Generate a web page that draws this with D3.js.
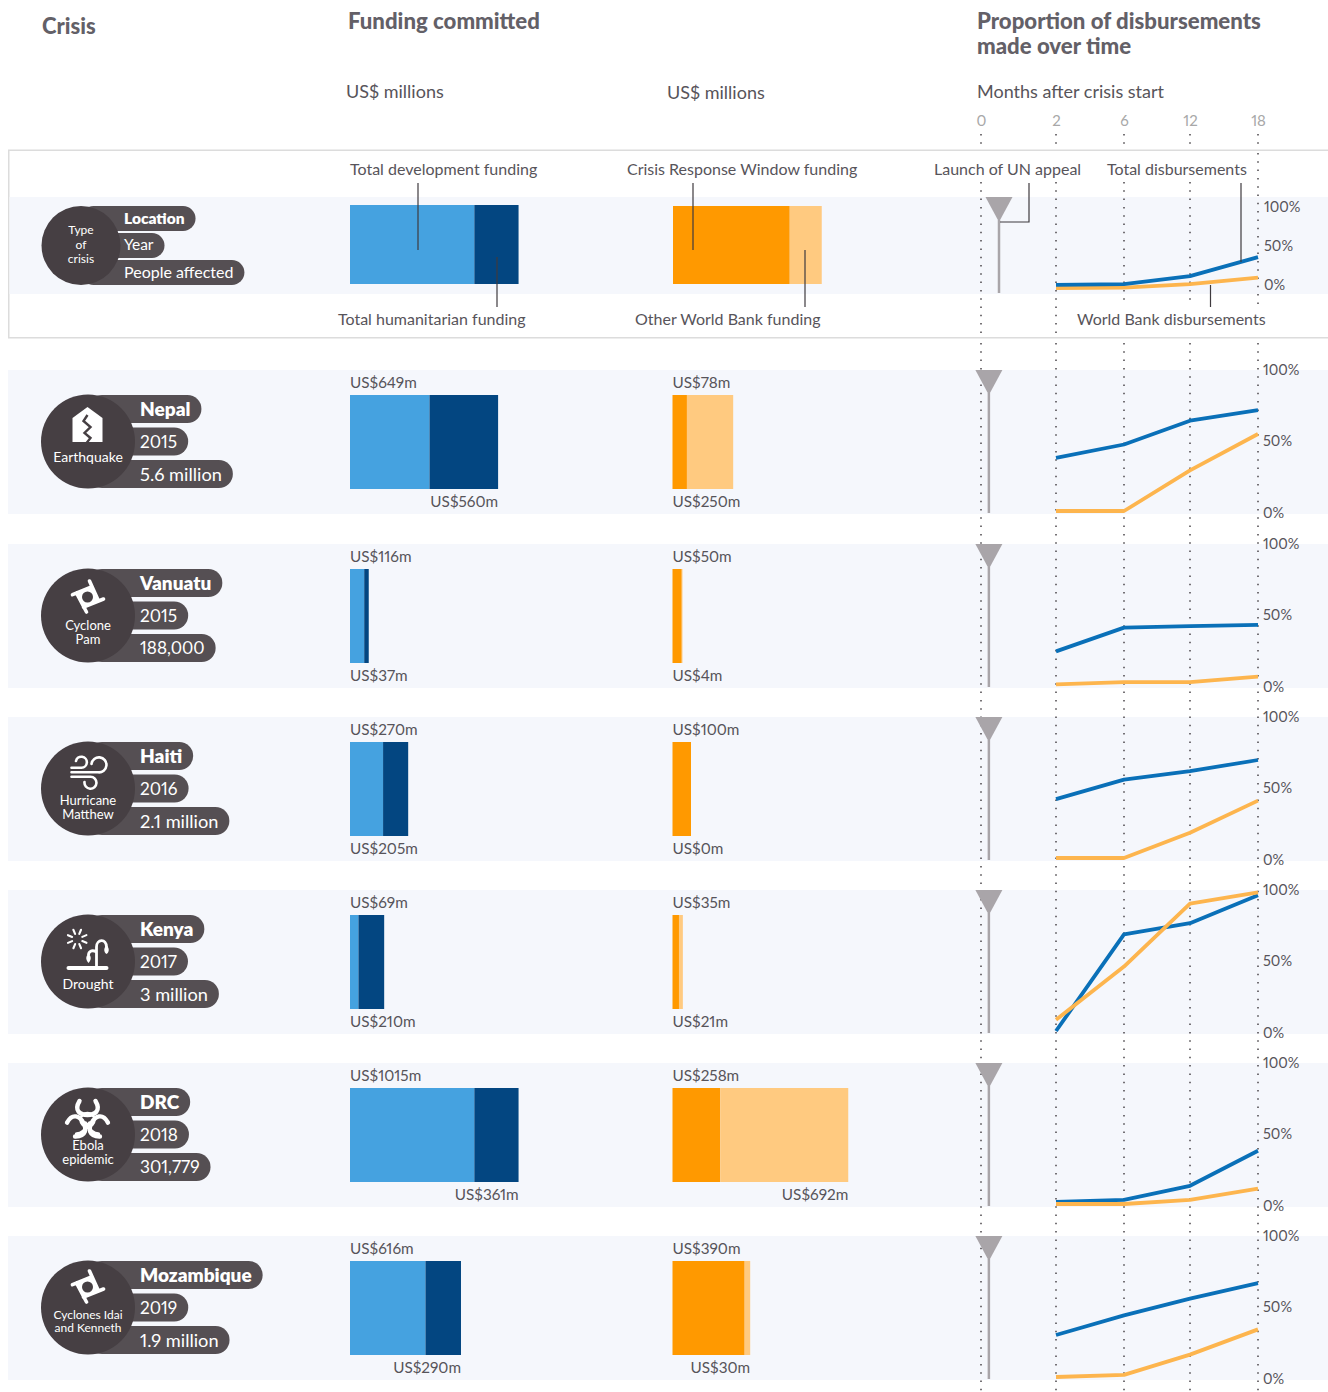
<!DOCTYPE html>
<html><head><meta charset="utf-8">
<script src="https://cdn.jsdelivr.net/npm/d3@7"></script>
<style>
html,body{margin:0;padding:0;background:#fff;overflow:hidden}
text{font-family:Lato,sans-serif;fill:#57545a;font-variant-numeric:proportional-nums;font-feature-settings:"pnum" 1}
</style></head><body><svg id="c" width="1328" height="1392"></svg>
<script>
const crises=["Nepal","Vanuatu","Haiti","Kenya","DRC","Mozambique"];
const years=["2015","2015","2016","2017","2018","2019"];
const people=["5.6 million","188,000","2.1 million","3 million","301,779","1.9 million"];
const crisisTypes=[["Earthquake"],["Cyclone","Pam"],["Hurricane","Matthew"],["Drought"],["Ebola","epidemic"],["Cyclones Idai","and Kenneth"]];
const icons=["quake","cyclone","wind","drought","bio","cyclone"];
const devFunding=[649,116,270,69,1015,616];
const humFunding=[560,37,205,210,361,290];
const crwFunding=[78,50,100,35,258,390];
const otherFunding=[250,4,0,21,692,30];
const months=[2,6,12,18];
const monthTicks=[0,2,6,12,18];
const totalDisb=[[38,47.5,64.5,72],[24,41,42,43],[42,56,62,70],[0,69,77,97],[1.5,3,13,38],[30,44,56,67]];
const wbDisb=[[0,0,29,55],[0.5,2,2,6],[0,0,18,41],[8,46,91,99],[0,0,3,11],[0,1.5,16,34]];
const appealMonth=[0.21,0.21,0.21,0.21,0.21,0.21];
const legendTotal=[4,5,15,39];
const legendWb=[0,0.5,5,13];
const legendBars={dev:1015,hum:361,crw:631,other:173,appeal:0.48};
const pctTicks=[0,50,100];

const C={bg:"#f5f7fc",lb:"#45a2e0",db:"#034681",or:"#ff9900",lo:"#ffca80",tot:"#0a70b8",wb:"#fdb54e",tri:"#a9a5a9",pill:"#554f53",circ:"#463f43",txt:"#57545a",note:"#3f3b3f"};
const svg=d3.select("#c");
const rowPoint=d3.scalePoint().domain(crises).range([370,1236]);
const rowTop=d=>Math.ceil(rowPoint(d));
const rowH=144, barTop=25, barH=94;
const xBlue=d3.scaleLinear().domain([0,1000]).range([0,122.5]);
const xOr=d3.scaleLinear().domain([0,1000]).range([0,185]);
const xM=d3.scaleLinear().domain(monthTicks).range([981,1056,1124,1190,1258]);
const T=(g,s,x,y,size,opt={})=>g.append("text").attr("x",x).attr("y",y+1.5).attr("font-size",size).attr("dominant-baseline","middle")
  .attr("text-anchor",opt.anchor||"start").attr("font-weight",opt.w||400).style("fill",opt.fill||C.txt).text(s);

// backgrounds
svg.append("g").selectAll("rect").data(crises).join("rect").attr("x",8).attr("y",d=>rowTop(d)).attr("width",1320).attr("height",rowH).attr("fill",C.bg);
svg.append("rect").attr("x",8.75).attr("y",150.25).attr("width",1330).attr("height",187.5).attr("fill","#fff").attr("stroke","#dcdcdc").attr("stroke-width",1.5);
svg.append("rect").attr("x",9.5).attr("y",197).attr("width",1320).attr("height",97).attr("fill",C.bg);

// dotted guides
const dots=svg.append("g").attr("stroke","#4a464a").attr("stroke-width",1.5).attr("stroke-dasharray","1.5 6.8");
const seg=(m,a,b)=>dots.append("line").attr("x1",xM(m)).attr("x2",xM(m)).attr("y1",a).attr("y2",b);
monthTicks.forEach(m=>{
  seg(m,134,147);
  seg(m,m===18?153:182,m<6?334:306);
  seg(m,343,1392);
});

// headers
const H={w:900,fill:"#636067"};
T(svg,"Crisis",42,27,22,H);
T(svg,"Funding committed",348,22,22.2,H);
T(svg,"Proportion of disbursements",977,21.5,22.2,H);
T(svg,"made over time",977,46.5,22.2,H);
T(svg,"US$ millions",346,92,18);
T(svg,"US$ millions",667,93,18);
T(svg,"Months after crisis start",977,92,18);
const ax=svg.append("g").attr("transform","translate(0,121)").call(d3.axisTop(xM).tickValues(monthTicks).tickSize(0).tickPadding(0).tickFormat(d3.format("d")));
ax.select(".domain").remove();
ax.selectAll("text").attr("font-size",15).attr("dy",".35em").style("fill","#a8a8a8").style("font-family","Lato,sans-serif");

function pills(g,cx,cy,r,rows,tx,sizes,pad,h,gap,dy){
  const n=rows.length;
  rows.forEach((s,i)=>{
    const y=cy-(n*h+(n-1)*gap)/2+i*(h+gap);
    const pill=g.append("rect").attr("x",cx).attr("y",y).attr("height",h).attr("rx",h/2).attr("fill",C.pill);
    const t=T(g,s,tx,y+h/2+dy,sizes[i],{w:i===0?800:400,fill:"#fff"});
    pill.attr("width",tx+t.node().getComputedTextLength()+pad-cx);
  });
  g.append("circle").attr("cx",cx).attr("cy",cy).attr("r",r).attr("fill",C.circ);
}
function icon(g,kind,cx,cy){
  const i=g.append("g").attr("transform",`translate(${cx},${cy})`);
  if(kind==="quake"){
    i.append("path").attr("d","M-15,-7L0,-18L15,-7V17H-15Z").attr("fill","#fff");
    i.append("path").attr("d","M0,-10L-4,-4L3,2L-3,8L3,13L-1,18").attr("fill","none").attr("stroke",C.circ).attr("stroke-width",2.4);
  } else if(kind==="cyclone"){
    i.append("path").attr("d","M-11,-4L4,-10L11,4L-4,10Z").attr("fill","#fff");
    i.append("path").attr("d","M-15,-2.3L4,-10M2,-16L11,4M16,2L-4,10M-1,15L-11,-4").attr("fill","none").attr("stroke","#fff").attr("stroke-width",3.6).attr("stroke-linecap","round");
    i.append("circle").attr("r",5.5).attr("fill",C.circ);
  } else if(kind==="wind"){
    i.append("path").attr("d","M-16,-4.3H-6A5.5,5.5 0 1 0 -11.5,-11M-16,0.3H10.7A7.5,7.5 0 1 0 4,-8M-16,4.7H3A6,6 0 1 1 -3,10").attr("fill","none").attr("stroke","#fff").attr("stroke-width",2.6).attr("stroke-linecap","round");
  } else if(kind==="drought"){
    i.append("path").attr("d","M-19,13H19").attr("stroke","#fff").attr("stroke-width",4).attr("stroke-linecap","round");
    i.append("path").attr("d","M9,12V-8C9,-16 19,-17 19,-8M9,-3C4,-6 1,-3 1,0").attr("fill","none").attr("stroke","#fff").attr("stroke-width",2.8);
    i.append("path").attr("d","M19,-10C22,-7 22,-3 19,-1C16,-3 16,-7 19,-10M1,-1C4,1 4,5 1,8C-2,5 -2,1 1,-1").attr("fill","#fff");
    i.append("g").selectAll("line").data(d3.range(8)).join("line").attr("transform","translate(-10.3,-16)")
      .attr("x1",d=>5.5*Math.cos(d*Math.PI/4+.39)).attr("y1",d=>5.5*Math.sin(d*Math.PI/4+.39)).attr("x2",d=>10*Math.cos(d*Math.PI/4+.39)).attr("y2",d=>10*Math.sin(d*Math.PI/4+.39)).attr("stroke","#fff").attr("stroke-width",2.1).attr("stroke-linecap","round");
  } else {
    const b=i.append("g").attr("fill","none").attr("stroke","#fff").attr("stroke-width",4.4).attr("stroke-linecap","round");
    [0,120,240].forEach(a=>{
      b.append("path").attr("transform",`rotate(${a})`).attr("d","M-8,-19C-14,-9 -7,-5 0,-5C7,-5 14,-9 8,-19");
    });
    b.append("path").attr("d","M-11,14C-6,14 -2,10 2,3M11,14C6,14 2,10 -2,3").attr("stroke-width",3.4);
    b.append("circle").attr("r",7).attr("stroke-width",2.4);
  }
}
function barSet(g,x0,scale,a,b,cA,cB,top,h){
  g.append("rect").attr("x",x0).attr("y",top).attr("width",scale(a)).attr("height",h).attr("fill",cA);
  g.append("rect").attr("x",x0+scale(a)).attr("y",top).attr("width",scale(b)).attr("height",h).attr("fill",cB);
}
const lineGen=(x,y)=>d3.line().x((d,i)=>x(months[i])).y(d=>y(d));
function lines(g,y,first,second){
  [first,second].forEach(([d,c])=>g.append("path").datum(d).attr("d",lineGen(xM,y)).attr("fill","none").attr("stroke",c).attr("stroke-width",3.8).attr("stroke-linejoin","round"));
}
function appeal(g,x,top,bottom,half,depth){
  g.append("line").attr("x1",x).attr("x2",x).attr("y1",top+depth-2).attr("y2",bottom).attr("stroke",C.tri).attr("stroke-width",2.5);
  g.append("path").attr("d",d3.line()([[x-half,top],[x+half,top],[x,top+depth]])+"Z").attr("fill",C.tri);
}
function pctAxis(g,x,scale,size){
  const a=g.append("g").attr("transform",`translate(${x},0.5)`).call(d3.axisRight(scale).tickValues(pctTicks).tickSize(0).tickPadding(0).tickFormat(d=>d+"%"));
  a.select(".domain").remove();
  a.selectAll("text").attr("font-size",size).style("fill",C.txt).style("font-family","Lato,sans-serif");
}

// key row
const k=svg.append("g");
pills(k,81,245.5,39.5,["Location","Year","People affected"],124,[15.5,15.5,16],11,25,2,-.5);
[["Type",-15],["of",0],["crisis",14]].forEach(([s,o])=>T(k,s,81,244+o,12,{anchor:"middle",fill:"#fff"}));
barSet(k,350,xBlue,legendBars.dev,legendBars.hum,C.lb,C.db,205,79);
barSet(k,673,xOr,legendBars.crw,legendBars.other,C.or,C.lo,206,78);
appeal(k,xM(legendBars.appeal),197,293,13.5,25);
lines(k,d3.scaleLinear().domain([0,100]).range([288,209]),[legendWb,C.wb],[legendTotal,C.tot]);
pctAxis(k,1264,d3.scaleLinear().domain([0,100]).range([284,206]),14.5);
const notes=[["Total development funding",350,169],["Total humanitarian funding",338,319],["Crisis Response Window funding",627,169],["Other World Bank funding",635,319],["Launch of UN appeal",934,169],["Total disbursements",1107,169],["World Bank disbursements",1077,319]];
notes.forEach(n=>T(k,n[0],n[1],n[2],16));
k.append("path").attr("fill","none").attr("stroke",C.note).attr("stroke-width",1.2)
 .attr("d","M418,183V250M497,257V307M693,183V250M805,250V307M1029,183V222H1000M1241,183V262M1210.5,285V307");

// crisis rows
const typeY=[[88],[82,96],[84.5,98.5],[95],[83.5,97.5],[79,92.5]];
const iconY=[55,53,55,65,57,51];
crises.forEach((name,i)=>{
  const top=rowTop(name), g=svg.append("g");
  pills(g,88,top+71.5,47,[name,years[i],people[i]],140,[19,17.2,/million/.test(people[i])?18.2:17.2],11,28,4.5,.5);
  const ty=crisisTypes[i], fs=ty[0].length>10?12:(ty.length>1?13:14);
  ty.forEach((s,j)=>T(g,s,88,top+typeY[i][j]-1,fs,{anchor:"middle",fill:"#fff"}));
  icon(g,icons[i],87.5,top+iconY[i]);
  barSet(g,350,xBlue,devFunding[i],humFunding[i],C.lb,C.db,top+barTop,barH);
  barSet(g,672.5,xOr,crwFunding[i],otherFunding[i],C.or,C.lo,top+barTop,barH);
  const bl=top+barTop-12, bb=top+barTop+barH+12.5;
  T(g,`US$${devFunding[i]}m`,350,bl,15.3);
  T(g,`US$${crwFunding[i]}m`,672.5,bl,15.3);
  [[humFunding[i],350,xBlue(devFunding[i]+humFunding[i])],[otherFunding[i],672.5,xOr(crwFunding[i]+otherFunding[i])]].forEach(([v,x0,w])=>{
    const t=T(g,`US$${v}m`,x0,bb,15.3), L=t.node().getComputedTextLength();
    if(L<w) t.attr("x",x0+w).attr("text-anchor","end");
  });
  appeal(g,xM(appealMonth[i]),top,top+143,13.5,25);
  const y=d3.scaleLinear().domain([0,100]).range([top+141,top+1]);
  lines(g,y,[totalDisb[i],C.tot],[wbDisb[i],C.wb]);
  pctAxis(g,1263,d3.scaleLinear().domain([0,100]).range([top+142,top-1]),14.5);
});
</script></body></html>
